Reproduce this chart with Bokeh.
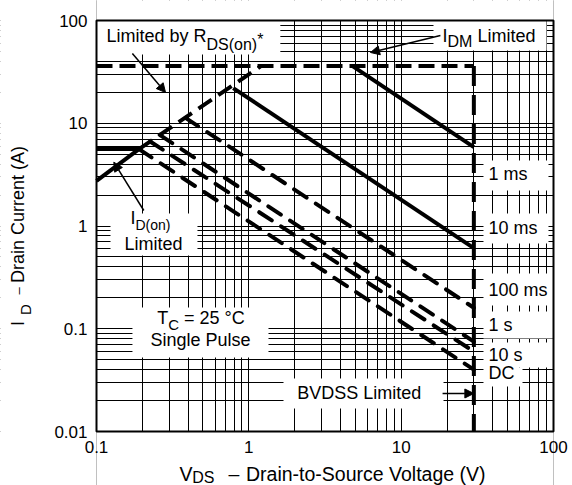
import math
from bokeh.plotting import figure
from bokeh.models import (Range1d, FixedTicker, NumeralTickFormatter, Label,
                          Arrow, NormalHead)
from bokeh.embed import file_html
from bokeh.resources import INLINE

# ---------------- data ----------------
x_ticks = [0.1, 1, 10, 100]
y_ticks = [0.01, 0.1, 1, 10, 100]

# limit lines (V, A)
rds_solid_v = [0.1, 0.19]
rds_solid_i = [2.75, 5.6]
rds_dash_v = [0.19, 1.2]
rds_dash_i = [5.6, 36.0]
idon_v = [0.1, 0.19]
idon_i = [5.6, 5.6]
idm_v = [0.1, 30.0]
idm_i = [36.0, 36.0]
bvdss_v = [30.0, 30.0]
bvdss_i = [36.0, 0.01]

# pulse-duration curves
pulse_names = ["1 ms", "10 ms", "100 ms", "1 s", "10 s", "DC"]
pulse_v_start = [4.8, 0.79, 0.384, 0.26, 0.225, 0.19]
pulse_i_start = [36.0, 22.0, 11.3, 7.7, 6.65, 5.6]
pulse_v_end = [30.0, 30.0, 30.0, 30.0, 30.0, 30.0]
pulse_i_end = [5.85, 0.61, 0.16, 0.075, 0.06, 0.04]
pulse_solid = [True, True, False, False, False, False]

# ---------------- layout geometry ----------------
W, H = 572, 485
# plot area inside the canvas (pixels): left, right, top, bottom
PL, PR, PT, PB = 96, 553, 20, 431
x0, x1 = x_ticks[0], x_ticks[-1]
y0, y1 = y_ticks[0], y_ticks[-1]
dx = (PR - PL) / math.log10(x1 / x0)
dy = (PB - PT) / math.log10(y1 / y0)
x_start = x0 / 10 ** (PL / dx)
x_end = x1 * 10 ** ((W - PR) / dx)
y_start = y0 / 10 ** ((H - PB) / dy)
y_end = y1 * 10 ** (PT / dy)

FONT = "Liberation Sans"
p = figure(width=W, height=H, x_axis_type="log", y_axis_type="log",
           x_range=Range1d(x_start, x_end), y_range=Range1d(y_start, y_end),
           output_backend="svg", toolbar_location=None, title=None,
           min_border=0, min_border_left=0, min_border_right=0,
           min_border_top=0, min_border_bottom=0)
p.background_fill_color = "white"
p.border_fill_color = "white"
p.outline_line_color = None

def minors(lo_exp, hi_exp):
    return [k * 10.0 ** e for e in range(lo_exp, hi_exp) for k in range(2, 10)]

xt = FixedTicker(ticks=x_ticks, minor_ticks=minors(-1, 2))
yt = FixedTicker(ticks=y_ticks, minor_ticks=minors(-2, 2))
p.xaxis.ticker = xt
p.yaxis.ticker = yt
p.xgrid.ticker = xt
p.ygrid.ticker = yt
p.xaxis.fixed_location = y0
p.yaxis.fixed_location = x0
for g in (p.xgrid, p.ygrid):
    g.grid_line_color = "black"
    g.grid_line_width = 1
    g.grid_line_alpha = 1.0
    g.minor_grid_line_color = "black"
    g.minor_grid_line_width = 1
    g.minor_grid_line_alpha = 1.0

for ax in (p.xaxis, p.yaxis):
    ax.formatter = NumeralTickFormatter(format="0.[00]")
    ax.axis_line_color = None
    ax.major_tick_line_color = None
    ax.minor_tick_line_color = None
    ax.major_tick_out = 0
    ax.major_tick_in = 0
    ax.minor_tick_out = 0
    ax.minor_tick_in = 0
    ax.major_label_text_font = FONT
    ax.major_label_text_font_size = "17px"
    ax.major_label_text_color = "black"
    ax.major_label_standoff = 9

# white margins around the plot area (hide grid lines outside it)
p.quad(left=[x_start, x1, x0, x0], right=[x0, x_end, x1, x1],
       bottom=[y_start, y_start, y_start, y1], top=[y_end, y_end, y0, y_end],
       fill_color="white", line_color=None)

# white boxes behind the annotation texts (data coords)
box_l = [0.1, 16.3, 0.1236, 0.1722, 1.689, 34.7, 34.7, 34.7, 34.7, 34.7, 34.7]
box_r = [1.61, 90.0, 0.46, 1.346, 18.97, 92.7, 92.7, 100, 100, 100, 62.6]
box_b = [46.7, 51.0, 0.516, 0.0525, 0.01675, 2.216, 0.676, 0.1684, 0.0803, 0.042, 0.0274]
box_t = [100, 100, 1.323, 0.161, 0.0328, 4.34, 1.323, 0.345, 0.1468, 0.0735, 0.042]
p.quad(left=box_l, right=box_r, bottom=box_b, top=box_t,
       fill_color="white", line_color=None)

# curves
LW = 4
p.line(rds_solid_v, rds_solid_i, line_color="black", line_width=LW)
p.line(rds_dash_v, rds_dash_i, line_color="black", line_width=LW,
       line_dash="16 8")
p.line(idon_v, idon_i, line_color="black", line_width=LW)
p.line(idm_v, idm_i, line_color="black", line_width=LW, line_dash="16 7")
p.line(bvdss_v, bvdss_i, line_color="black", line_width=LW, line_dash="20 9")
for vs, is_, ve, ie, solid in zip(pulse_v_start, pulse_i_start, pulse_v_end,
                                  pulse_i_end, pulse_solid):
    if solid:
        p.line([vs, ve], [is_, ie], line_color="black", line_width=LW)
    else:
        p.line([vs, ve], [is_, ie], line_color="black", line_width=LW,
               line_dash="15 11", line_cap="round")

# plot-area border
p.quad(left=[x0], right=[x1], bottom=[y0], top=[y1], fill_color=None,
       line_color="black", line_width=2)

# arrows
def arrow(xa, ya, xb, yb):
    p.add_layout(Arrow(end=NormalHead(size=9, fill_color="black",
                                      line_color="black", line_width=1),
                       x_start=xa, y_start=ya, x_end=xb, y_end=yb,
                       line_color="black", line_width=1.5))

arrow(0.172, 47.8, 0.284, 19.9)      # R_DS(on)
arrow(18.1, 71.5, 6.29, 48.8)        # I_DM
arrow(0.2044, 1.415, 0.1299, 4.18)   # I_D(on)
arrow(18.7, 0.02344, 30.0, 0.02344)  # BVDSS

# labels: x from canvas left, y from canvas top, in pixels
def lab(text, x, y, size="18px", angle=0.0, align="left"):
    p.add_layout(Label(x=x, y=H - y, x_units="screen", y_units="screen",
                       text=text, text_font=FONT, text_font_size=size,
                       text_color="black", text_align=align,
                       text_baseline="alphabetic", angle=angle))

lab("Limited by R", 106, 35.5)
lab("DS(on)", 206, 43.6, "16px")
lab("*", 256.7, 38.6, "16px")

lab("I", 442, 35.3)
lab("DM", 447, 40.6, "16px")
lab("Limited", 477, 35.3)

lab("I", 130, 217.8)
lab("D(on)", 135, 224.4, "14px")
lab("Limited", 124, 243.8)

lab("T", 156.7, 317.8)
lab("C", 167.7, 324, "15px")
lab("= 25 °C", 183.5, 317.8)
lab("Single Pulse", 150, 339.5)

lab("BVDSS Limited", 296.7, 392.1)

right_label_y = [173, 227, 289, 324, 354, 372]
for name, yy in zip(pulse_names, right_label_y):
    lab(name, 488, yy)

# axis titles
lab("V", 179, 473.5, "19.5px")
lab("DS", 191.7, 476.5, "16px")
lab("–", 228, 473.5, "19.5px")
lab("Drain-to-Source Voltage (V)", 245.5, 473.5, "19.5px")

rot = math.pi / 2
lab("I", 17.5, 325.5, "18px", angle=rot)
lab("D", 25, 314.5, "15px", angle=rot)
lab("–", 17.5, 294, "13px", angle=rot)
lab("Drain Current (A)", 17.5, 282.5, "18px", angle=rot)

open("out.html", "w").write(file_html(p, INLINE))
